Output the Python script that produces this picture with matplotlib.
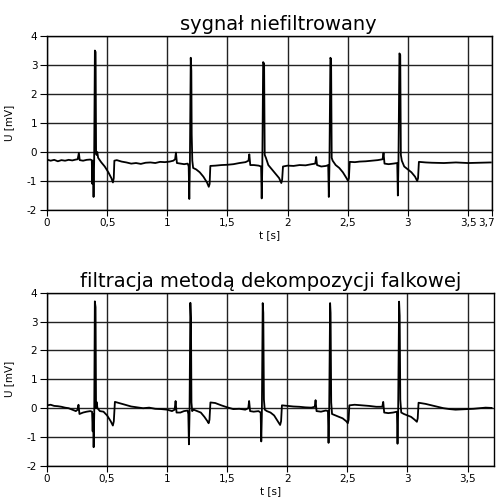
import numpy as np
import matplotlib
matplotlib.use('Agg')
import matplotlib.pyplot as plt
import matplotlib.transforms as mtransforms
from matplotlib.ticker import FuncFormatter

# sygnal niefiltrowany - punkty (t [s], U [mV])
t_raw = [0.00, 0.03, 0.06, 0.09, 0.12, 0.15, 0.18, 0.21, 0.24, 0.255, 0.265, 0.272, 0.30, 0.33, 0.36,
         0.372, 0.377, 0.382, 0.387, 0.392, 0.398, 0.404, 0.408, 0.412, 0.418, 0.425, 0.45, 0.48, 0.51,
         0.535, 0.548, 0.555, 0.56, 0.58, 0.62, 0.66, 0.70, 0.74, 0.78, 0.82, 0.86, 0.90, 0.94, 0.98,
         1.02, 1.05, 1.065, 1.072, 1.08, 1.11, 1.14, 1.17, 1.178, 1.183, 1.188, 1.195, 1.20, 1.203,
         1.208, 1.215, 1.24, 1.27, 1.30, 1.33, 1.345, 1.352, 1.358, 1.40, 1.45, 1.50, 1.55, 1.60, 1.65,
         1.675, 1.682, 1.69, 1.72, 1.76, 1.78, 1.785, 1.79, 1.797, 1.805, 1.81, 1.82, 1.84, 1.87, 1.90,
         1.93, 1.948, 1.955, 1.962, 2.00, 2.05, 2.10, 2.15, 2.20, 2.23, 2.238, 2.245, 2.28, 2.32, 2.338,
         2.343, 2.348, 2.356, 2.362, 2.367, 2.375, 2.40, 2.43, 2.46, 2.49, 2.503, 2.51, 2.517, 2.56,
         2.60, 2.65, 2.70, 2.75, 2.79, 2.798, 2.806, 2.84, 2.88, 2.912, 2.917, 2.922, 2.93, 2.937, 2.942,
         2.95, 2.97, 3.00, 3.03, 3.06, 3.078, 3.085, 3.092, 3.15, 3.20, 3.30, 3.40, 3.50, 3.60, 3.69]
u_raw = [-0.26, -0.30, -0.27, -0.32, -0.28, -0.30, -0.27, -0.29, -0.26, -0.25, -0.03, -0.28, -0.30, -0.27, -0.26,
         -0.28, -1.10, -0.30, -1.55, -0.30, 3.50, 3.45, -0.05, -0.10, 0.00, -0.20, -0.35, -0.50, -0.70,
         -0.90, -1.05, -0.90, -0.30, -0.28, -0.33, -0.36, -0.40, -0.38, -0.41, -0.37, -0.36, -0.38, -0.34, -0.35,
         -0.33, -0.30, -0.25, -0.02, -0.38, -0.40, -0.42, -0.40, -0.50, -1.62, -0.40, 3.25, 2.80, 0.60,
         -0.30, -0.55, -0.60, -0.70, -0.85, -1.05, -1.20, -1.10, -0.48, -0.47, -0.45, -0.44, -0.42, -0.38, -0.35,
         -0.30, -0.08, -0.45, -0.45, -0.47, -0.50, -1.60, -0.50, 3.10, 3.05, -0.10, -0.20, -0.45, -0.60, -0.75,
         -0.90, -1.07, -0.95, -0.50, -0.47, -0.48, -0.45, -0.46, -0.42, -0.40, -0.17, -0.45, -0.50, -0.48, -0.45,
         -1.55, -0.50, 3.25, 3.20, -0.20, -0.30, -0.45, -0.55, -0.70, -0.90, -1.00, -0.90, -0.34, -0.35,
         -0.33, -0.32, -0.30, -0.28, -0.25, -0.03, -0.40, -0.42, -0.40, -0.38, -1.50, -0.40, 3.40, 3.35, -0.10,
         -0.30, -0.50, -0.60, -0.70, -0.85, -1.00, -0.90, -0.34, -0.36, -0.37, -0.38, -0.36, -0.38, -0.37, -0.36]

# po filtracji falkowej
t_flt = [0.00, 0.03, 0.06, 0.09, 0.12, 0.15, 0.18, 0.21, 0.24, 0.255, 0.262, 0.27, 0.30, 0.33, 0.36,
         0.375, 0.38, 0.384, 0.388, 0.393, 0.398, 0.404, 0.408, 0.412, 0.42, 0.44, 0.47, 0.50, 0.53,
         0.548, 0.556, 0.565, 0.60, 0.65, 0.70, 0.75, 0.80, 0.85, 0.90, 0.95, 1.00, 1.04, 1.062, 1.07,
         1.078, 1.11, 1.14, 1.17, 1.176, 1.181, 1.186, 1.193, 1.198, 1.202, 1.208, 1.22, 1.25, 1.28,
         1.31, 1.335, 1.345, 1.352, 1.36, 1.40, 1.45, 1.50, 1.55, 1.60, 1.65, 1.675, 1.682, 1.69, 1.72,
         1.76, 1.778, 1.783, 1.788, 1.795, 1.80, 1.805, 1.812, 1.83, 1.86, 1.89, 1.92, 1.94, 1.948, 1.955,
         2.00, 2.05, 2.10, 2.15, 2.20, 2.228, 2.235, 2.243, 2.28, 2.32, 2.338, 2.343, 2.348, 2.356, 2.36,
         2.365, 2.372, 2.40, 2.43, 2.46, 2.49, 2.503, 2.51, 2.516, 2.56, 2.62, 2.68, 2.74, 2.79, 2.798,
         2.806, 2.84, 2.88, 2.912, 2.917, 2.922, 2.93, 2.935, 2.94, 2.948, 2.97, 3.00, 3.03, 3.06, 3.078,
         3.085, 3.092, 3.15, 3.20, 3.25, 3.30, 3.35, 3.40, 3.45, 3.50, 3.55, 3.60, 3.65, 3.70]
u_flt = [0.10, 0.12, 0.08, 0.07, 0.05, 0.02, 0.00, -0.05, -0.10, -0.05, 0.12, -0.20, -0.15, -0.12, -0.10,
         -0.12, -0.80, -0.20, -1.35, -0.20, 3.70, 3.50, 0.00, 0.22, 0.00, -0.10, -0.12, -0.25, -0.45,
         -0.60, -0.45, 0.22, 0.18, 0.12, 0.06, 0.03, 0.00, 0.02, -0.02, -0.03, -0.05, -0.10, -0.05, 0.25,
         -0.15, -0.15, -0.10, -0.08, -0.20, -1.25, -0.20, 3.65, 3.10, 0.20, -0.10, -0.05, -0.10, -0.15,
         -0.30, -0.45, -0.52, -0.40, 0.20, 0.18, 0.10, 0.03, -0.03, -0.02, -0.05, 0.00, 0.25, -0.10, -0.12,
         -0.10, -0.15, -1.15, -0.20, 3.64, 3.30, 0.30, -0.05, -0.10, -0.15, -0.25, -0.45, -0.58, -0.45, 0.10,
         0.08, 0.06, 0.05, 0.03, 0.02, 0.05, 0.28, -0.10, -0.12, -0.08, -0.10, -1.20, -0.20, 3.64, 3.30,
         0.20, -0.20, -0.25, -0.30, -0.35, -0.45, -0.52, -0.40, 0.10, 0.12, 0.10, 0.08, 0.05, 0.05, 0.22,
         -0.15, -0.17, -0.15, -0.12, -1.23, -0.20, 3.69, 3.20, 0.30, -0.15, -0.20, -0.25, -0.30, -0.40, -0.47,
         -0.35, 0.19, 0.15, 0.10, 0.05, 0.00, -0.03, -0.05, -0.04, -0.03, -0.02, 0.00, 0.02, 0.01]

xt_top = [0, 0.5, 1, 1.5, 2, 2.5, 3, 3.5, 3.7]
xt_bot = [0, 0.5, 1, 1.5, 2, 2.5, 3, 3.5]
yt = [-2, -1, 0, 1, 2, 3, 4]


def fmt(v, pos):
    s = ('%g' % v).replace('.', ',')
    return s


fig = plt.figure(figsize=(4.98, 5.03), dpi=100)
ax1 = fig.add_axes([0.0944, 0.5825, 0.8936, 0.3459])
ax2 = fig.add_axes([0.0944, 0.0736, 0.8976, 0.3445])

panels = [(ax1, t_raw, u_raw, 'sygnał niefiltrowany', xt_top, 3.70, 0.52),
          (ax2, t_flt, u_flt, 'filtracja metodą dekompozycji falkowej', xt_bot, 3.72, 0.50)]

for ax, t, u, title, xt, xmax, tx in panels:
    ax.plot(t, u, color='black', lw=1.3)
    ax.set_xlim(0, xmax)
    ax.set_ylim(-2, 4)
    ax.set_xticks(xt)
    ax.set_yticks(yt)
    ax.xaxis.set_major_formatter(FuncFormatter(fmt))
    ax.yaxis.set_major_formatter(FuncFormatter(fmt))
    ax.grid(True, color='#222222', lw=1.0)
    ax.tick_params(axis='y', direction='out', length=5, width=0.8, labelsize=7.5, pad=2)
    ax.tick_params(axis='x', direction='out', length=4, width=0.8, labelsize=7.5, pad=2)
    for sp in ax.spines.values():
        sp.set_linewidth(1.0)
    ax.set_title(title, fontsize=14, x=tx, pad=4)
    ax.set_xlabel('t [s]', fontsize=7.5, labelpad=1)
    ax.set_ylabel('U [mV]', fontsize=7.5, labelpad=9)

# etykieta 3,7 lekko w lewo, zeby miescila sie w obrazie
lab = ax1.xaxis.get_major_ticks()[-1].label1
lab.set_transform(lab.get_transform() + mtransforms.ScaledTranslation(-4 / 72, 0, fig.dpi_scale_trans))

plt.savefig('out.png', dpi=100)
